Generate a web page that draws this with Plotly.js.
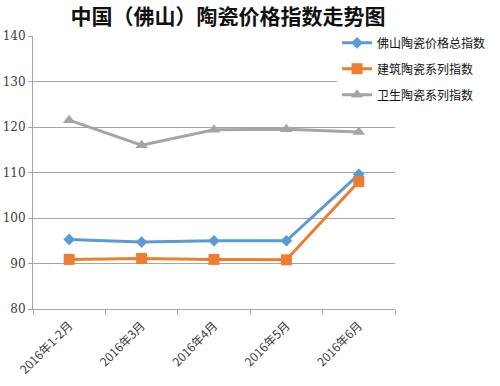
<!DOCTYPE html>
<html><head><meta charset="utf-8">
<script src="https://cdn.plot.ly/plotly-3.0.1.min.js"></script>
<style>body{margin:0;background:#fff}#c{width:500px;height:386px}</style>
</head><body><div id="c"></div>
<script>
const categories = ['2016年1-2月','2016年3月','2016年4月','2016年5月','2016年6月'];
const seriesNames = ['佛山陶瓷价格总指数','建筑陶瓷系列指数','卫生陶瓷系列指数'];
const totalIndex = [95.3, 94.7, 95.0, 95.0, 109.6];
const buildingIndex = [90.9, 91.1, 90.9, 90.8, 108.0];
const sanitaryIndex = [121.5, 116.0, 119.4, 119.5, 118.9];
const yTicks = [80, 90, 100, 110, 120, 130, 140];

const colors = ['#5B9BD5', '#ED7D31', '#A5A5A5'];
const symbols = ['diamond', 'square', 'triangle-up'];
const sizes = [9, 11, 11];
const data = [totalIndex, buildingIndex, sanitaryIndex].map((v, i) => ({
  x: categories, y: v, name: seriesNames[i], type: 'scatter', mode: 'lines+markers',
  legendgroup: 'g' + i,
  line: {color: colors[i], width: 3},
  marker: {color: colors[i], symbol: symbols[i], size: sizes[i]}
}));

const layout = {
  width: 500, height: 386,
  margin: {l: 33, r: 105, t: 36, b: 77, autoexpand: false},
  paper_bgcolor: '#fff', plot_bgcolor: '#fff',
  font: {family: '"Noto Sans CJK SC", "DejaVu Sans", sans-serif', color: '#404040', size: 11},
  title: {text: '中国（佛山）陶瓷价格指数走势图', x: 0.456, xanchor: 'center', yref: 'container', y: 0.958, yanchor: 'middle',
          font: {size: 21, color: '#111', family: '"Noto Sans CJK SC", sans-serif', weight: 'bold'}},
  xaxis: {type: 'category', tickangle: -45, showgrid: false, showline: true, linecolor: '#A6A6A6', linewidth: 1,
          ticks: 'outside', tickson: 'boundaries', ticklen: 5, tickcolor: '#A6A6A6', ticklabelstandoff: 4,
          tickfont: {size: 12, color: '#404040'}, range: [-0.5, 4.5]},
  yaxis: {range: [80, 140], tickvals: yTicks, showgrid: true, gridcolor: '#A6A6A6', gridwidth: 1,
          showline: true, linecolor: '#A6A6A6', ticks: 'outside', ticklen: 4, tickcolor: '#A6A6A6',
          tickfont: {size: 12, color: '#404040', family: '"DejaVu Serif", serif'}, zeroline: false},
  legend: {x: 0.84, xanchor: 'left', y: 1.028, yanchor: 'top', bgcolor: '#fff', traceorder: 'grouped',
           font: {size: 12, color: '#111'}, tracegroupgap: 7, itemwidth: 30},
  showlegend: true
};
Plotly.newPlot('c', data, layout, {displayModeBar: false, staticPlot: true});
</script></body></html>
